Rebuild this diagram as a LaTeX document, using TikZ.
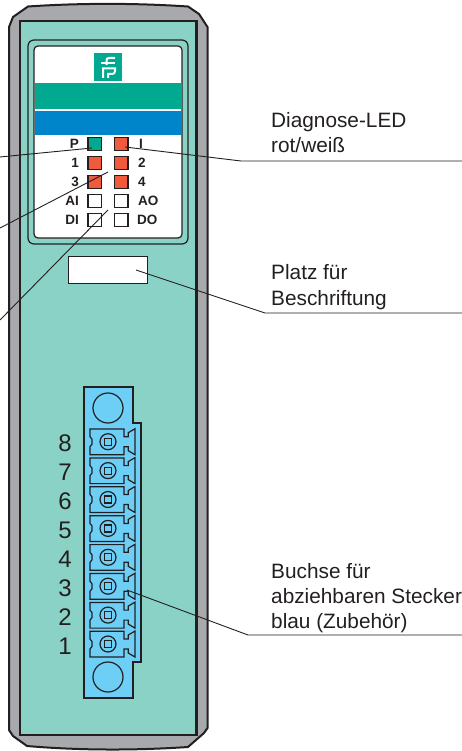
\documentclass[tikz,border=0pt]{standalone}
\usepackage{fontspec}
\setmainfont{Liberation Sans}
\definecolor{tealbg}{HTML}{8AD1C6}
\definecolor{graybody}{HTML}{A7A9AC}
\definecolor{pfgreen}{HTML}{00A98F}
\definecolor{pfblue}{HTML}{0085CA}
\definecolor{ledred}{HTML}{F15A3C}
\definecolor{plugblue}{HTML}{6DCFF6}
\definecolor{ink}{HTML}{231F20}
\tikzset{
  lamp/.style={draw=ink,line width=1.3pt,minimum width=13.5pt,minimum height=13.5pt,inner sep=0pt,outer sep=0pt,fill=#1},
  ledtxt/.style={font=\bfseries\fontsize{13.5}{14}\selectfont,text=ink,inner sep=0pt},
  digit/.style={font=\fontsize{24}{26}\selectfont,text=ink,inner sep=0pt},
  callout/.style={font=\fontsize{20.8}{22}\selectfont,text=ink,inner sep=0pt,anchor=base west},
  leader/.style={draw=ink,line width=0.9pt},
  pin/.pic={
    \draw[ink,line width=1.2pt] (-18,-12.7) -- (16,-12.7) -- (16,-5) -- (20.3,-5) -- (20.3,-9) -- (27,-13) -- (27,13) -- (20.3,9) -- (20.3,5) -- (16,5) -- (16,13) -- (-18,13) -- (-18,5) -- (-16,2.5) -- (-16,-2.5) -- (-18,-5) -- cycle;
    \draw[ink,line width=1.2pt] (0,0) circle (8);
    \draw[ink,line width=1.2pt] (-3.5,-3.5) rectangle (3.5,3.5);
  }
}
\begin{document}
\begin{tikzpicture}[x=1pt,y=-1pt]
\useasboundingbox (0,0) rectangle (462,751);
% housing
\draw[ink,line width=2pt,fill=graybody] (9,27) -- (13,17) -- (28,6.5) .. controls (80,3) and (135,3) .. (188,6.5) -- (199,14) -- (207.5,27) -- (207.5,728) -- (204,733) -- (188,747) .. controls (135,750.5) and (80,750.5) .. (27,746) -- (13,736) -- (9,730) -- cycle;
\draw[ink,line width=2.5pt,fill=tealbg] (20,21) rectangle (196.5,735);
% window
\draw[ink,line width=1.2pt,rounded corners=6pt] (28,40) rectangle (188,244);
\draw[ink,line width=1.2pt,rounded corners=4pt,fill=white] (34,46) rectangle (182,238);
\fill[pfgreen] (34.5,83) rectangle (181.5,109);
\fill[pfblue] (34.5,111) rectangle (181.5,135);
% logo
\node[fill=pfgreen,minimum width=28pt,minimum height=28pt,inner sep=0pt] (logo) at (108,67) {};
\draw[white,line width=2pt] (115,58) -- (109,58) .. controls (107,58) and (106.5,59) .. (106.5,61) -- (106.5,65);
\draw[white,line width=2pt] (101,63.5) -- (115,63.5);
\draw[white,line width=2pt] (103,78) -- (103,68.5) -- (115,68.5) -- (115,71) .. controls (115,73) and (114,74) .. (112,74) -- (108,74) -- (108,78);
% LEDs
\node[lamp=pfgreen] (ledP) at (94.7,144) {};
\node[lamp=ledred] (ledI) at (121.3,144) {};
\node[lamp=ledred] (led1) at (94.7,163) {};
\node[lamp=ledred] (led2) at (121.3,163) {};
\node[lamp=ledred] (led3) at (94.7,182) {};
\node[lamp=ledred] (led4) at (121.3,182) {};
\node[lamp=white] (ledAI) at (94.7,201) {};
\node[lamp=white] (ledAO) at (121.3,201) {};
\node[lamp=white] (ledDI) at (94.7,220) {};
\node[lamp=white] (ledDO) at (121.3,220) {};
\node[ledtxt,anchor=east] (tP) at (79,144) {P};
\node[ledtxt,anchor=west] (tI) at (139,144) {I};
\node[ledtxt,anchor=east] (t1) at (79,163) {1};
\node[ledtxt,anchor=west] (t2) at (138,163) {2};
\node[ledtxt,anchor=east] (t3) at (79,182) {3};
\node[ledtxt,anchor=west] (t4) at (138,182) {4};
\node[ledtxt,anchor=east] (tAI) at (79,201) {AI};
\node[ledtxt,anchor=west] (tAO) at (138,201) {AO};
\node[ledtxt,anchor=east] (tDI) at (79,220) {DI};
\node[ledtxt,anchor=west] (tDO) at (137,220) {DO};
% label field
\node[draw=ink,line width=1.2pt,fill=white,minimum width=79pt,minimum height=27.5pt,inner sep=0pt] (field) at (108,270) {};
% connector
\draw[ink,line width=1.2pt,fill=plugblue] (84,387) -- (133,387) -- (133,423) -- (141,423) -- (141,662) -- (133,662) -- (133,698) -- (84,698) -- cycle;
\node[draw=ink,line width=1.2pt,circle,minimum size=30pt,inner sep=0pt] (holeT) at (108,408) {};
\node[draw=ink,line width=1.2pt,circle,minimum size=30pt,inner sep=0pt] (holeB) at (108,677) {};
\foreach \i/\lab in {0/8,1/7,2/6,3/5,4/4,5/3,6/2,7/1}{
  \pic at (108,{441.7+28.9*\i}) {pin};
  \node[digit] (d\lab) at (65,{443+29*\i}) {\lab};
}
% free ends
\coordinate (aP) at (92,148);
\coordinate (bP) at (0,157);
\coordinate (a2) at (108,172);
\coordinate (b2) at (0,228);
\coordinate (a4) at (108,210);
\coordinate (b4) at (0,320);
\coordinate (aI) at (125,147);
\coordinate (kI) at (241,161);
\coordinate (eI) at (462,161);
\coordinate (aF) at (136,270);
\coordinate (kF) at (265,313);
\coordinate (eF) at (462,313);
\coordinate (aS) at (127,590);
\coordinate (kS) at (248,635);
\coordinate (eS) at (462,635);
\draw[leader] (aP) -- (bP);
\draw[leader] (a2) -- (b2);
\draw[leader] (a4) -- (b4);
\draw[leader] (aI) -- (kI) -- (eI);
\draw[leader] (aF) -- (kF) -- (eF);
\draw[leader] (aS) -- (kS) -- (eS);
% callouts
\node[callout] (c1) at (271,128) {Diagnose-LED};
\node[callout] (c2) at (271,153) {rot/weiß};
\node[callout] (c3) at (271,279) {Platz für};
\node[callout] (c4) at (271,305) {Beschriftung};
\node[callout] (c5) at (271,578.5) {Buchse für};
\node[callout] (c6) at (271,603.5) {abziehbaren Stecker};
\node[callout] (c7) at (271,628.5) {blau (Zubehör)};
\end{tikzpicture}
\end{document}
